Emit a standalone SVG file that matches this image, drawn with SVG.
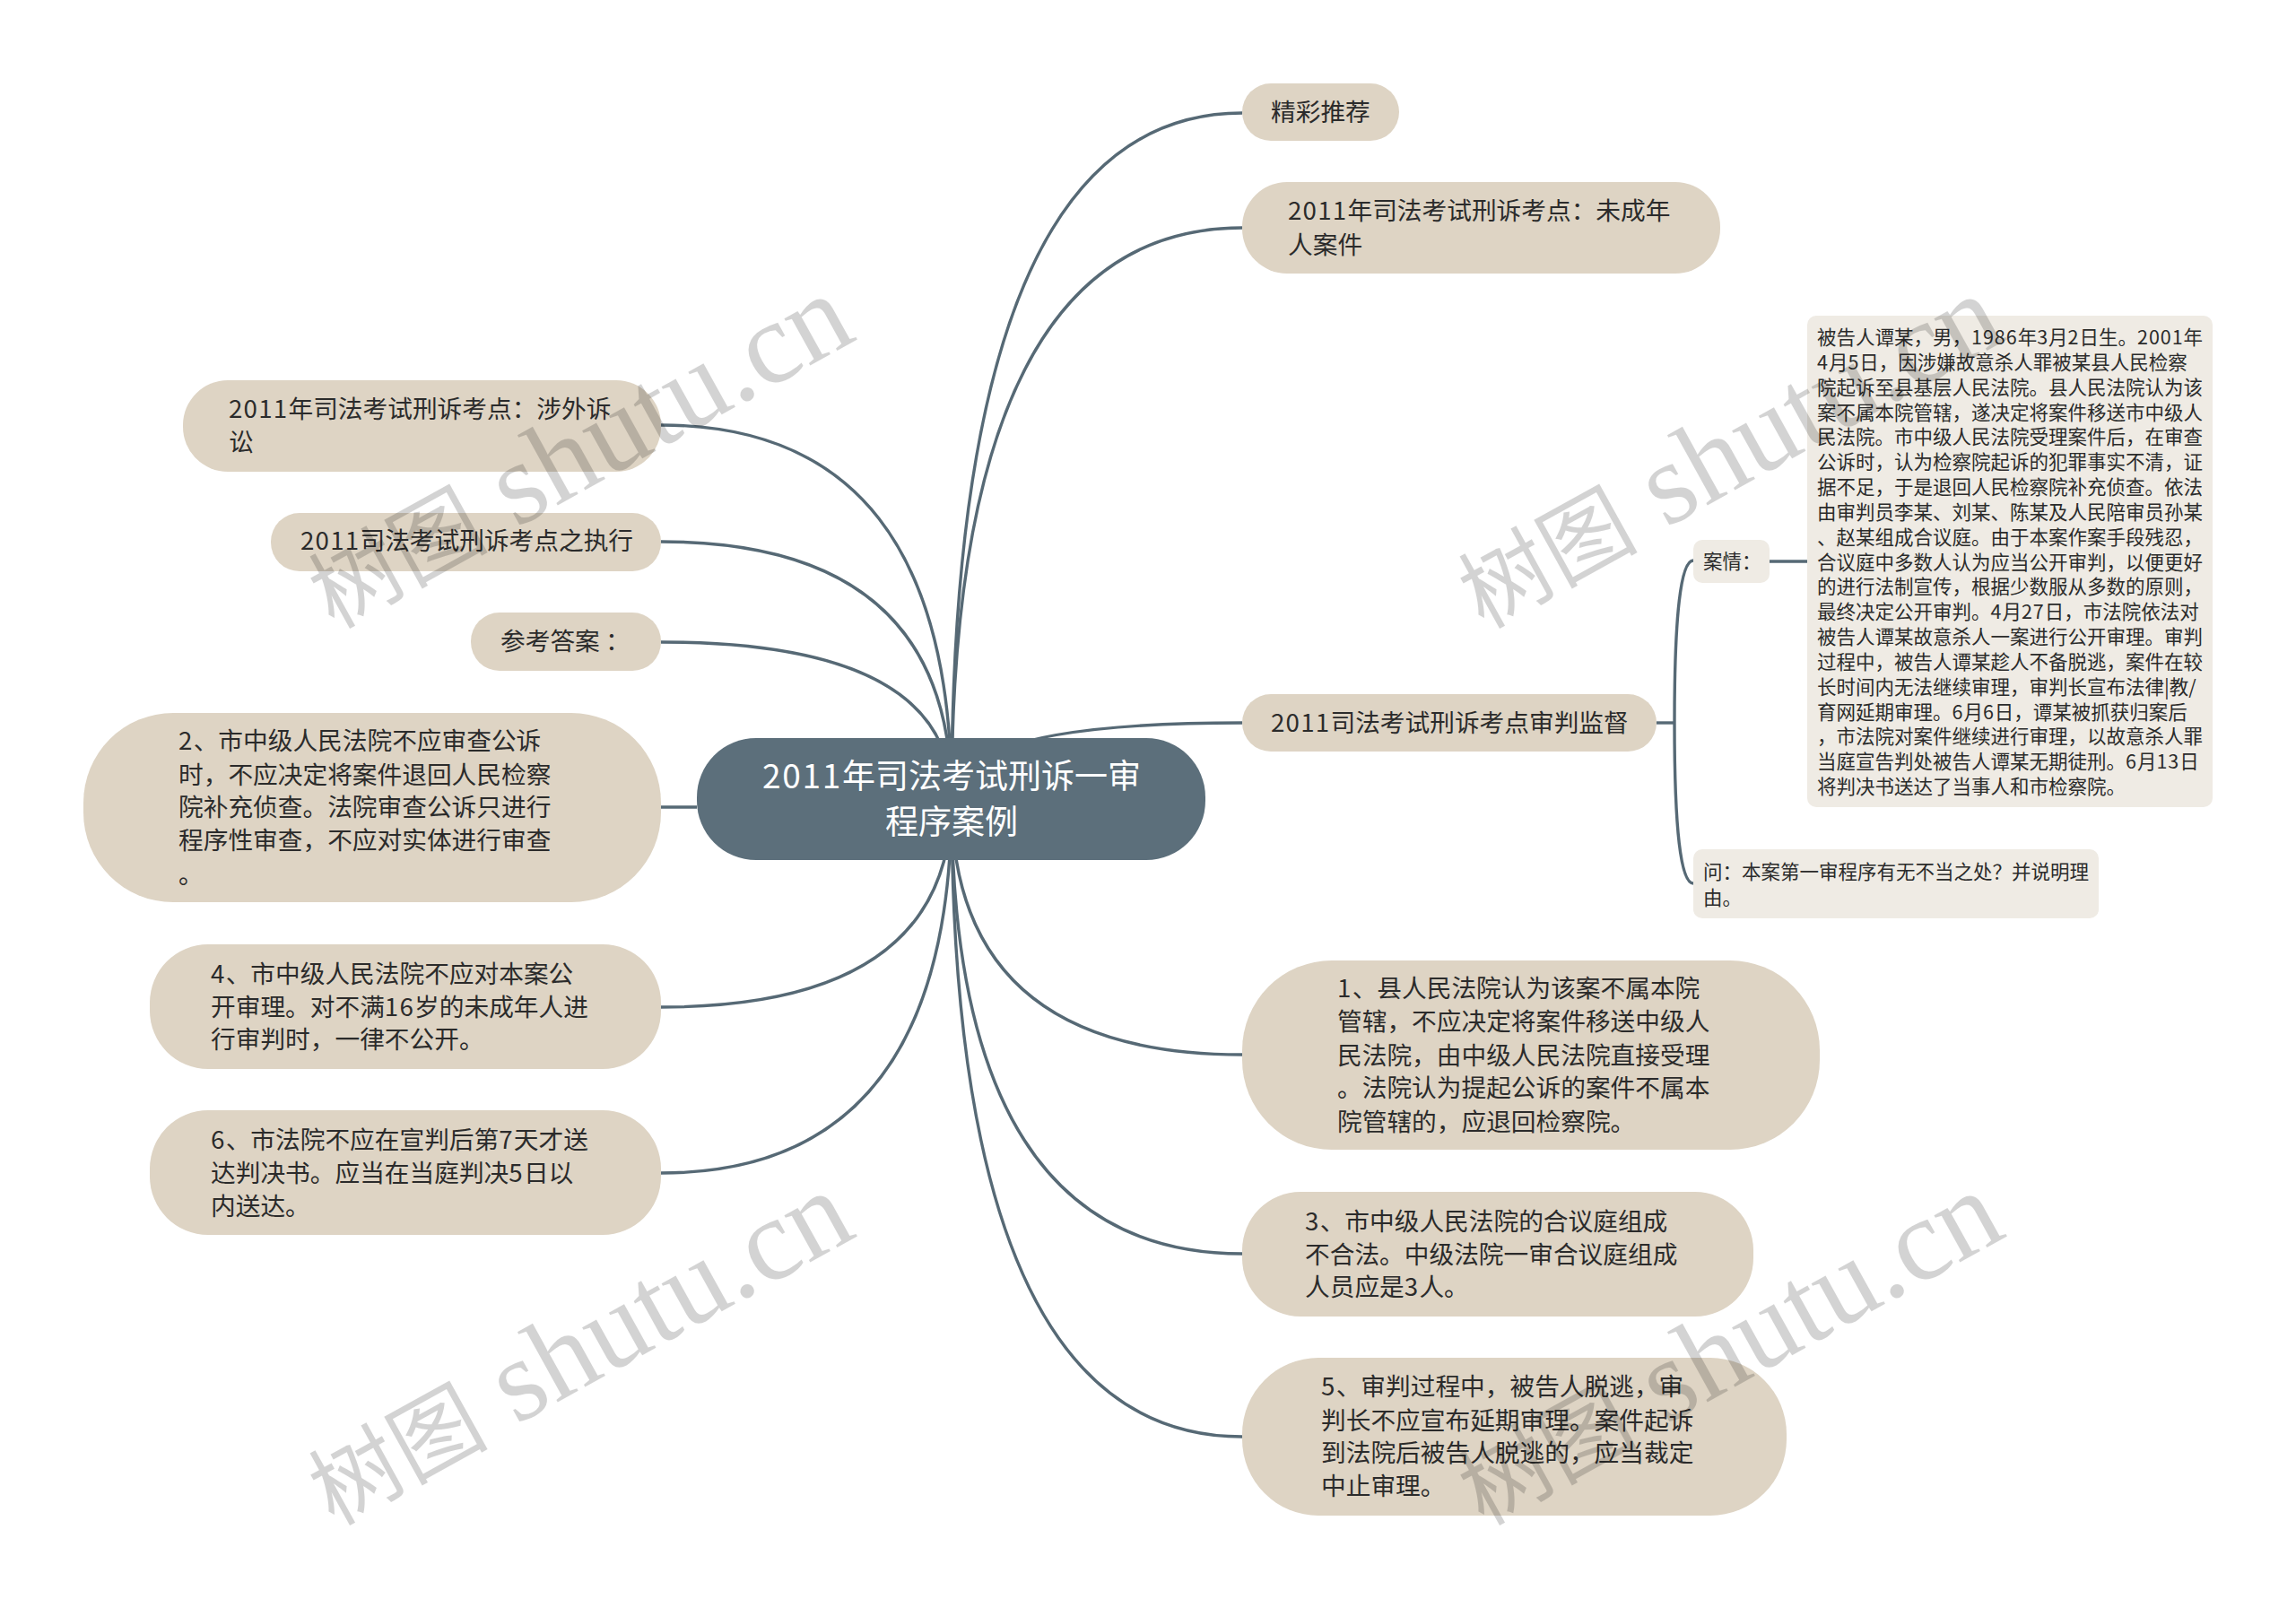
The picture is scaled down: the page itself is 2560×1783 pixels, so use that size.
<svg xmlns="http://www.w3.org/2000/svg" width="2560" height="1783" viewBox="0 0 2560 1783">
<style>
text{font-family:"Noto Sans CJK SC","Liberation Sans",sans-serif;}
.n{fill:#ded4c4}
.d{fill:#efebe4}
.t{font-size:27.7px;fill:#2b2b2b}
.s{font-size:21.5px;fill:#2b2b2b}
.g{letter-spacing:.045em}
.c{fill:none;stroke:#566975;stroke-width:3.4}
.w{fill:#000;opacity:.17}
.wc{font-size:100px}
.wl{font-family:"Liberation Serif",serif;font-size:130px}
</style>
<rect width="2560" height="1783" fill="#fff"/>
<g id="connectors">
<path class="c" d="M1061 891Q1061 126 1385 126"/>
<path class="c" d="M1061 891Q1061 254 1385 254"/>
<path class="c" d="M1061 891Q1061 806 1385 806"/>
<path class="c" d="M1061 891Q1061 1176 1385 1176"/>
<path class="c" d="M1061 891Q1061 1398 1385 1398"/>
<path class="c" d="M1061 891Q1061 1602 1385 1602"/>
<path class="c" d="M1061 891Q1061 474 737 474"/>
<path class="c" d="M1061 891Q1061 604 737 604"/>
<path class="c" d="M1061 891Q1061 716 737 716"/>
<path class="c" d="M777 900H737"/>
<path class="c" d="M1061 891Q1061 1123 737 1123"/>
<path class="c" d="M1061 891Q1061 1308 737 1308"/>
<path class="c" d="M1847 806H1867"/>
<path class="c" d="M1867 806Q1867 625 1888 625"/>
<path class="c" d="M1867 806Q1867 985 1888 985"/>
<path class="c" d="M1973 626H2015"/>
</g>
<g id="root"><rect x="777" y="823" width="567" height="136" rx="66" fill="#5c6f7b"/>
<text x="1061" y="879" text-anchor="middle" font-size="37" fill="#fff"><tspan class="g">2011</tspan>年司法考试刑诉一审</text>
<text x="1061" y="930" text-anchor="middle" font-size="37" fill="#fff">程序案例</text></g>
<g id="n1"><rect class="n" x="1385" y="93" width="175" height="64" rx="32"/><text class="t" x="1417" y="135">精彩推荐</text></g>
<g id="n2"><rect class="n" x="1385" y="203" width="533" height="102" rx="50"/><text class="t" x="1436" y="245"><tspan class="g">2011</tspan>年司法考试刑诉考点：未成年</text><text class="t" x="1436" y="283">人案件</text></g>
<g id="n3"><rect class="n" x="1385" y="774" width="462" height="64" rx="32"/><text class="t" x="1417" y="816"><tspan class="g">2011</tspan>司法考试刑诉考点审判监督</text></g>
<g id="n3a"><rect class="d" x="1888" y="602" width="85" height="48" rx="10"/><text class="s" x="1899" y="634">案情：</text></g>
<g id="n3a1"><rect class="d" x="2015" y="352" width="452" height="548" rx="10"/>
<text class="s" x="2026" y="384">被告人谭某，男，<tspan class="g">1986</tspan>年<tspan class="g">3</tspan>月<tspan class="g">2</tspan>日生。<tspan class="g">2001</tspan>年</text>
<text class="s" x="2026" y="412"><tspan class="g">4</tspan>月<tspan class="g">5</tspan>日，因涉嫌故意杀人罪被某县人民检察</text>
<text class="s" x="2026" y="440">院起诉至县基层人民法院。县人民法院认为该</text>
<text class="s" x="2026" y="468">案不属本院管辖，遂决定将案件移送市中级人</text>
<text class="s" x="2026" y="495">民法院。市中级人民法院受理案件后，在审查</text>
<text class="s" x="2026" y="523">公诉时，认为检察院起诉的犯罪事实不清，证</text>
<text class="s" x="2026" y="551">据不足，于是退回人民检察院补充侦查。依法</text>
<text class="s" x="2026" y="579">由审判员李某、刘某、陈某及人民陪审员孙某</text>
<text class="s" x="2026" y="607">、赵某组成合议庭。由于本案作案手段残忍，</text>
<text class="s" x="2026" y="635">合议庭中多数人认为应当公开审判，以便更好</text>
<text class="s" x="2026" y="662">的进行法制宣传，根据少数服从多数的原则，</text>
<text class="s" x="2026" y="690">最终决定公开审判。<tspan class="g">4</tspan>月<tspan class="g">27</tspan>日，市法院依法对</text>
<text class="s" x="2026" y="718">被告人谭某故意杀人一案进行公开审理。审判</text>
<text class="s" x="2026" y="746">过程中，被告人谭某趁人不备脱逃，案件在较</text>
<text class="s" x="2026" y="774">长时间内无法继续审理，审判长宣布法律|教/</text>
<text class="s" x="2026" y="802">育网延期审理。<tspan class="g">6</tspan>月<tspan class="g">6</tspan>日，谭某被抓获归案后</text>
<text class="s" x="2026" y="829">，市法院对案件继续进行审理，以故意杀人罪</text>
<text class="s" x="2026" y="857">当庭宣告判处被告人谭某无期徒刑。<tspan class="g">6</tspan>月<tspan class="g">13</tspan>日</text>
<text class="s" x="2026" y="885">将判决书送达了当事人和市检察院。</text></g>
<g id="n3b"><rect class="d" x="1888" y="947" width="452" height="77" rx="10"/>
<text class="s" x="1899" y="980">问：本案第一审程序有无不当之处？并说明理</text>
<text class="s" x="1899" y="1009">由。</text></g>
<g id="n4"><rect class="n" x="1385" y="1071" width="644" height="211" rx="100"/>
<text class="t" x="1491" y="1112"><tspan class="g">1</tspan>、县人民法院认为该案不属本院</text>
<text class="t" x="1491" y="1149">管辖，不应决定将案件移送中级人</text>
<text class="t" x="1491" y="1187">民法院，由中级人民法院直接受理</text>
<text class="t" x="1491" y="1223">。法院认为提起公诉的案件不属本</text>
<text class="t" x="1491" y="1261">院管辖的，应退回检察院。</text></g>
<g id="n5"><rect class="n" x="1385" y="1329" width="570" height="139" rx="65"/>
<text class="t" x="1455" y="1372"><tspan class="g">3</tspan>、市中级人民法院的合议庭组成</text>
<text class="t" x="1455" y="1409">不合法。中级法院一审合议庭组成</text>
<text class="t" x="1455" y="1445">人员应是<tspan class="g">3</tspan>人。</text></g>
<g id="n6"><rect class="n" x="1385" y="1514" width="607" height="176" rx="85"/>
<text class="t" x="1473" y="1556"><tspan class="g">5</tspan>、审判过程中，被告人脱逃，审</text>
<text class="t" x="1473" y="1594">判长不应宣布延期审理。案件起诉</text>
<text class="t" x="1473" y="1630">到法院后被告人脱逃的，应当裁定</text>
<text class="t" x="1473" y="1667">中止审理。</text></g>
<g id="n7"><rect class="n" x="204" y="424" width="533" height="102" rx="50"/>
<text class="t" x="255" y="466"><tspan class="g">2011</tspan>年司法考试刑诉考点：涉外诉</text>
<text class="t" x="255" y="503">讼</text></g>
<g id="n8"><rect class="n" x="302" y="572" width="435" height="65" rx="32"/><text class="t" x="335" y="613"><tspan class="g">2011</tspan>司法考试刑诉考点之执行</text></g>
<g id="n9"><rect class="n" x="525" y="683" width="212" height="65" rx="32"/><text class="t" x="558" y="725">参考答案 ：</text></g>
<g id="n10"><rect class="n" x="93" y="795" width="644" height="211" rx="100"/>
<text class="t" x="199" y="836"><tspan class="g">2</tspan>、市中级人民法院不应审查公诉</text>
<text class="t" x="199" y="874">时，不应决定将案件退回人民检察</text>
<text class="t" x="199" y="910">院补充侦查。法院审查公诉只进行</text>
<text class="t" x="199" y="947">程序性审查，不应对实体进行审查</text>
<text class="t" x="199" y="985">。</text></g>
<g id="n11"><rect class="n" x="167" y="1053" width="570" height="139" rx="65"/>
<text class="t" x="235" y="1096"><tspan class="g">4</tspan>、市中级人民法院不应对本案公</text>
<text class="t" x="235" y="1133">开审理。对不满<tspan class="g">16</tspan>岁的未成年人进</text>
<text class="t" x="235" y="1169">行审判时，一律不公开。</text></g>
<g id="n12"><rect class="n" x="167" y="1238" width="570" height="139" rx="65"/>
<text class="t" x="235" y="1281"><tspan class="g">6</tspan>、市法院不应在宣判后第<tspan class="g">7</tspan>天才送</text>
<text class="t" x="235" y="1318">达判决书。应当在当庭判决<tspan class="g">5</tspan>日以</text>
<text class="t" x="235" y="1355">内送达。</text></g>
<g id="watermarks">
<text class="w" transform="translate(372 702) rotate(-29)"><tspan class="wc">树图</tspan><tspan class="wl"> shutu.cn</tspan></text>
<text class="w" transform="translate(1654 702) rotate(-29)"><tspan class="wc">树图</tspan><tspan class="wl"> shutu.cn</tspan></text>
<text class="w" transform="translate(372 1702) rotate(-29)"><tspan class="wc">树图</tspan><tspan class="wl"> shutu.cn</tspan></text>
<text class="w" transform="translate(1654 1702) rotate(-29)"><tspan class="wc">树图</tspan><tspan class="wl"> shutu.cn</tspan></text>
</g>
</svg>
